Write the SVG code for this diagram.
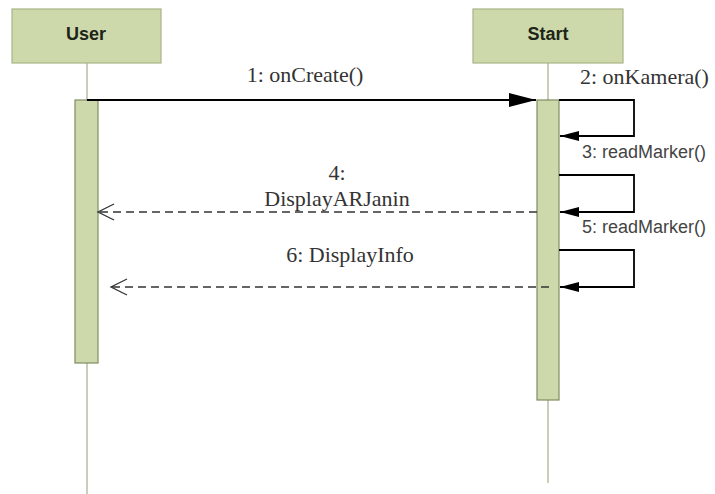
<svg xmlns="http://www.w3.org/2000/svg" width="715" height="494" viewBox="0 0 715 494">
  <style>
    .head { fill: #cdd9ab; stroke: #a9b485; stroke-width: 1.2; }
    .headtxt { font-family: "Liberation Sans", Arial, sans-serif; font-weight: bold; font-size: 18px; fill: #1e2418; text-anchor: middle; }
    .life { stroke: #a6ad88; stroke-width: 1.2; fill: none; }
    .act { fill: #cdd9ab; stroke: #7f8c62; stroke-width: 1.2; }
    .msg { stroke: #000; stroke-width: 1.8; fill: none; }
    .ret { stroke: #333; stroke-width: 1.3; fill: none; stroke-dasharray: 8 5; }
    .open { stroke: #333; stroke-width: 1.3; fill: none; }
    .lbl { font-family: "Liberation Serif", "Times New Roman", serif; font-size: 22px; fill: #333; }
    .lbls { font-family: "Liberation Sans", Arial, sans-serif; font-size: 18px; fill: #444; }
  </style>
  <defs>
    <marker id="solid" markerWidth="28" markerHeight="16" refX="27" refY="8" orient="auto" markerUnits="userSpaceOnUse">
      <path d="M0,1 L27,8 L0,15 Z" fill="#000"/>
    </marker>
    <marker id="solidSmall" markerWidth="20" markerHeight="12" refX="19" refY="6" orient="auto" markerUnits="userSpaceOnUse">
      <path d="M0,1 L19,6 L0,11 Z" fill="#000"/>
    </marker>
  </defs>

  <rect width="715" height="494" fill="#fff"/>

  <!-- lifelines -->
  <g id="lifelines">
    <line class="life" x1="87" y1="63" x2="87" y2="494"/>
    <line class="life" x1="548" y1="63" x2="548" y2="483"/>
  </g>

  <g id="user">
    <rect class="head" x="12" y="9" width="149" height="54"/>
    <text class="headtxt" x="86" y="40">User</text>
    <rect class="act" x="75" y="100" width="23" height="263"/>
  </g>

  <g id="start">
    <rect class="head" x="473" y="9" width="150" height="54"/>
    <text class="headtxt" x="548" y="40">Start</text>
    <rect class="act" x="537" y="100" width="22" height="300"/>
  </g>

  <!-- messages -->
  <g id="connectors">
    <line class="msg" x1="87" y1="100" x2="536" y2="100" marker-end="url(#solid)"/>
    <polyline class="msg" points="559,100 634,100 634,136 560,136" stroke-width="1.5" marker-end="url(#solidSmall)"/>
    <polyline class="msg" points="559,175 634,175 634,212 560,212" stroke-width="1.5" marker-end="url(#solidSmall)"/>
    <polyline class="msg" points="559,250 634,250 634,287 560,287" stroke-width="1.5" marker-end="url(#solidSmall)"/>

    <line class="ret" x1="537" y1="212" x2="99" y2="212"/>
    <polyline class="open" points="114,204 98,212 114,220"/>
    <line class="ret" x1="549" y1="287" x2="112" y2="287"/>
    <polyline class="open" points="127,279 111,287 127,295"/>
  </g>

  <g id="labels">
    <text class="lbl" x="305" y="82" text-anchor="middle">1: onCreate()</text>
    <text class="lbl" x="580" y="84">2: onKamera()</text>
    <text class="lbls" x="582" y="158">3: readMarker()</text>
    <text class="lbl" x="337" y="180" text-anchor="middle">4:</text>
    <text class="lbl" x="337" y="206" text-anchor="middle">DisplayARJanin</text>
    <text class="lbls" x="582" y="233">5: readMarker()</text>
    <text class="lbl" x="350" y="262" text-anchor="middle">6: DisplayInfo</text>
  </g>
</svg>
